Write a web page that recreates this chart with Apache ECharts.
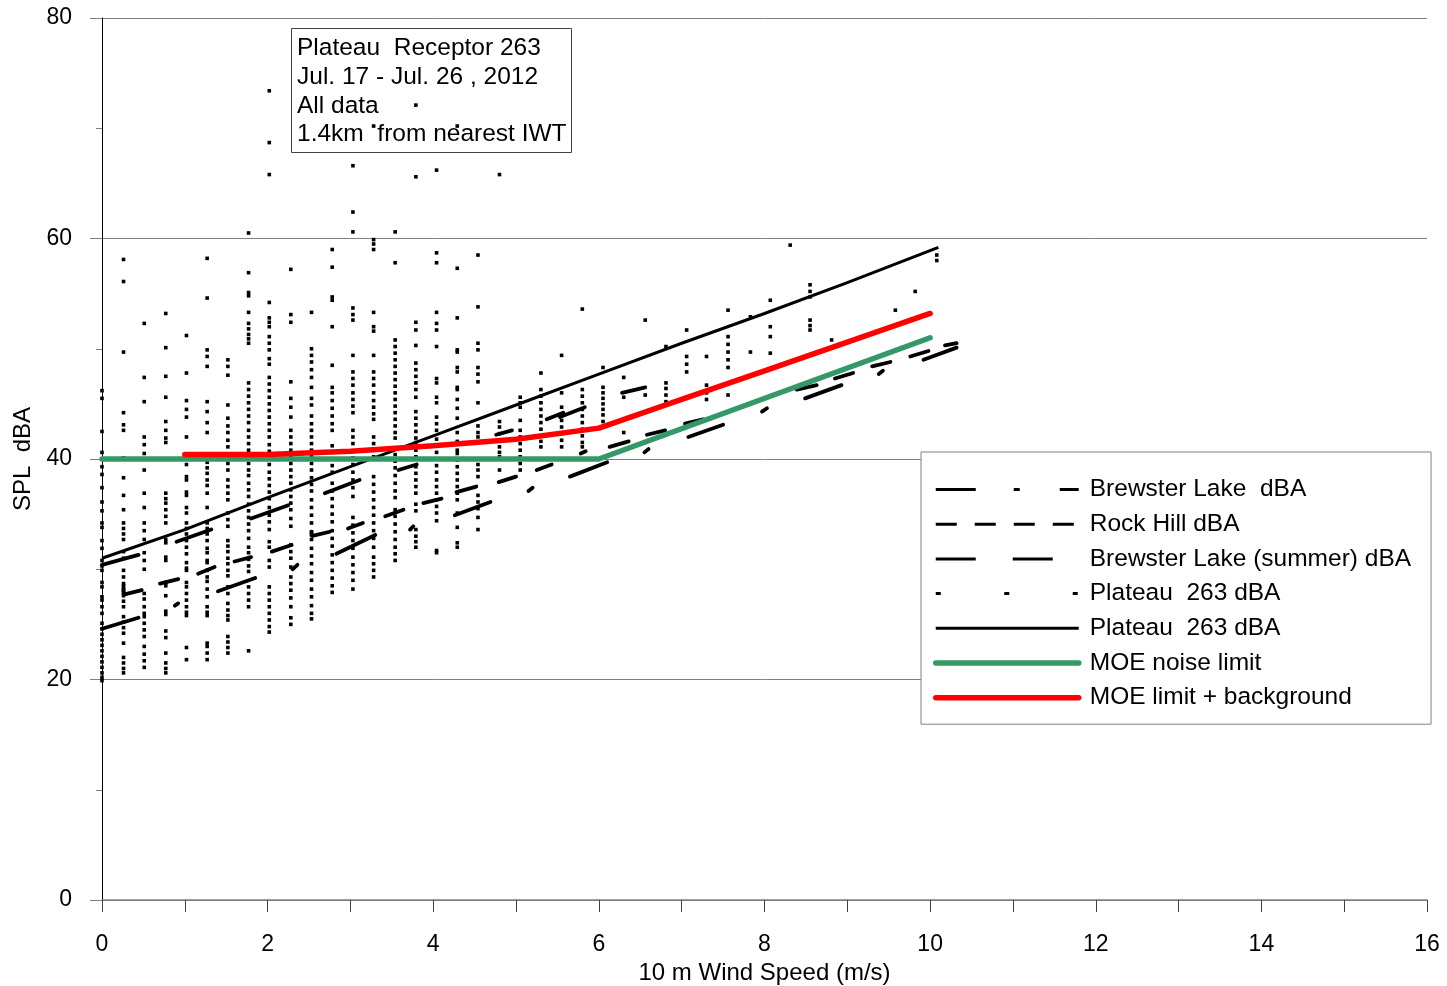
<!DOCTYPE html>
<html><head><meta charset="utf-8">
<script src="https://cdn.jsdelivr.net/npm/echarts@6/dist/echarts.min.js"></script>
<style>html,body{margin:0;padding:0;background:#fff}#chart{width:1447px;height:986px}</style>
</head><body><div id="chart"></div>
<script>
// ---------------- DATA ----------------
const noteLines = ['Plateau  Receptor 263', 'Jul. 17 - Jul. 26 , 2012', 'All data', '1.4km  from nearest IWT'];

const legendNames = ['Brewster Lake  dBA', 'Rock Hill dBA', 'Brewster Lake (summer) dBA',
  'Plateau  263 dBA', 'Plateau  263 dBA ', 'MOE noise limit', 'MOE limit + background'];

// Plateau 263 measured points: one column of SPL values per wind-speed bin
const scatterX = [0, 0.26, 0.51, 0.77, 1.02, 1.27, 1.52, 1.77, 2.02, 2.28, 2.53, 2.78, 3.03, 3.28, 3.54, 3.79,
  4.04, 4.29, 4.54, 4.80, 5.05, 5.30, 5.55, 5.80, 6.05, 6.30, 6.56, 6.81, 7.06, 7.30, 7.56, 7.83, 8.07, 8.31, 8.55, 8.81, 9.58, 9.82, 10.08];
const scatterY = [
  [46.2,45.5,42.5,40.6,39.3,38.6,37.4,36.1,35.3,34.2,33.8,32.6,31.9,30.8,30.3,29.9,28.8,28.4,27.5,27.2,26.6,26.0,25.1,24.6,24.1,23.6,23.1,22.6,22.1,21.6,21.1,20.6,20.2,19.9],
  [58.1,56.1,49.7,44.2,43.1,42.6,40.1,38.3,36.7,35.4,34.2,33.7,33.2,32.7,31.6,31.0,29.9,29.3,28.7,28.1,27.6,27.1,26.6,25.7,25.2,24.7,24.2,23.3,22.0,21.5,21.0,20.6],
  [52.3,47.4,45.2,42.0,41.3,40.5,39.0,36.9,35.6,34.2,33.5,32.7,31.5,30.8,30.0,27.8,27.3,26.6,26.0,25.7,25.1,24.5,23.9,23.0,22.3,21.7,21.1],
  [53.2,50.1,47.5,45.6,43.4,42.6,41.9,41.5,36.9,36.4,36.0,35.4,34.8,34.2,32.7,32.4,31.1,30.8,28.8,28.5,27.6,26.2,25.9,24.4,23.8,22.4,21.5,21.0,20.6],
  [51.2,47.8,45.3,44.5,43.8,42.0,39.5,38.4,38.1,37.0,36.7,35.6,35.1,34.2,33.7,33.2,32.6,32.0,31.4,30.6,30.1,29.9,28.8,28.4,27.8,27.2,26.6,26.1,25.8,22.9,21.8],
  [58.2,54.6,49.9,49.3,48.4,45.2,44.3,43.3,42.4,39.7,39.2,38.7,38.1,37.6,36.9,35.6,34.2,33.7,33.2,32.6,31.9,31.5,30.8,30.6,29.9,29.3,28.9,28.2,27.5,26.6,26.1,25.8,23.3,23.0,22.4,21.8],
  [49.0,48.4,47.6,44.9,43.7,43.0,42.4,41.7,41.1,39.6,39.0,38.1,37.5,36.9,36.3,35.1,34.5,33.9,32.6,32.1,31.6,31.0,30.5,29.9,29.4,28.4,27.8,26.9,26.3,25.8,25.4,23.9,23.4,22.9,22.4],
  [60.5,56.9,55.1,54.8,53.3,52.3,51.8,51.3,50.9,50.5,46.9,46.3,45.7,45.1,44.5,43.9,43.3,42.6,42.0,41.4,40.8,39.6,39.0,38.5,37.8,37.2,36.6,35.9,35.3,34.7,34.1,33.5,32.8,32.0,31.5,30.9,30.3,29.8,28.4,27.8,27.2,26.6,22.6],
  [73.4,68.7,65.8,54.2,52.8,52.4,52.0,51.1,50.5,49.9,49.1,48.6,47.4,46.8,46.2,45.6,45.0,44.4,43.8,43.2,42.6,42.0,41.3,40.7,40.1,39.5,38.8,38.2,37.6,37.0,36.4,35.6,34.9,34.3,33.6,32.5,32.0,30.8,30.2,28.4,27.8,27.2,26.6,26.0,25.4,24.8,24.3],
  [57.2,53.1,52.4,47.0,45.5,44.7,43.8,42.6,42.0,41.4,40.8,40.2,39.6,39.0,38.4,37.8,37.2,36.6,36.0,35.4,34.6,33.9,32.2,31.6,31.0,30.2,29.3,28.7,28.1,27.4,26.6,25.6,25.0],
  [53.3,50.0,49.4,48.8,48.1,47.4,46.5,45.5,44.9,43.9,43.2,42.6,42.0,41.4,40.8,40.2,39.6,39.0,38.3,37.7,37.1,36.3,35.6,34.9,34.2,33.4,32.7,31.9,31.2,30.5,29.7,29.0,28.2,27.5,26.7,26.0,25.5],
  [59.0,57.4,54.7,54.4,52.0,48.5,46.5,46.0,45.3,44.6,43.9,43.2,42.6,41.2,40.6,40.0,39.4,38.8,37.8,37.1,36.4,35.7,35.0,34.3,33.5,32.8,32.1,31.3,30.6,29.9,29.2,28.5,27.9],
  [66.6,62.4,60.6,53.7,53.1,52.6,49.4,47.9,47.3,46.7,46.0,45.4,44.8,44.2,42.6,42.0,41.4,40.7,40.1,39.5,38.8,38.1,37.4,36.6,34.7,34.0,33.3,32.6,31.9,31.1,30.4,29.7,29.0,28.2],
  [70.2,59.9,59.5,59.0,53.3,52.0,51.6,49.4,47.9,47.3,46.7,46.0,45.3,44.7,44.1,43.6,42.0,41.4,40.8,40.2,38.4,37.7,37.0,36.3,35.6,34.9,34.2,33.5,32.8,32.0,31.1,30.5,29.9,29.3],
  [60.6,57.8,50.8,50.2,49.6,49.0,48.4,47.8,47.2,46.6,46.0,45.4,44.8,44.2,43.6,43.0,42.4,41.9,40.4,39.8,39.2,38.5,37.8,37.1,36.5,35.4,34.8,34.1,33.4,32.7,32.0,31.4,30.8],
  [72.1,65.6,52.4,51.7,50.3,48.7,48.1,47.5,46.9,46.3,45.6,44.3,43.7,43.1,42.5,41.9,41.5,40.8,40.2,39.3,38.7,38.1,37.5,36.9,35.9,35.3,33.6,33.0,32.5,32.0],
  [66.2,58.7,57.8,53.3,52.3,51.7,50.2,47.3,46.9,45.6,45.1,43.8,43.2,42.6,41.8,41.2,40.6,40.0,39.4,38.8,38.1,37.5,36.9,36.3,35.7,35.1,34.4,31.7,31.5],
  [70.2,57.3,52.8,49.9,49.7,48.3,47.9,46.5,46.3,45.4,44.6,43.7,42.4,41.6,40.8,40.5,39.9,39.3,38.7,38.1,37.5,36.9,36.3,35.1,33.8,32.4,32.0],
  [58.5,53.8,50.5,49.9,48.3,47.7,47.0,45.1,43.0,42.4,42.0,39.5,39.0,38.4,36.7,36.1,35.5,34.7,33.6],
  [65.8,43.4,42.9,42.3,41.7,41.1,40.6,40.2,39.0],
  [45.6,45.1,44.7,43.5,42.6,42.0,41.4,40.8,40.2,39.6,39.0],
  [47.8,46.3,45.7,45.1,44.5,43.9,43.3,42.7,42.1,41.6,41.1],
  [49.4,46.0,44.7,44.1,43.5,42.9,42.3,41.7,41.1],
  [53.6,46.3,45.7,45.1,44.5,43.9,43.3,42.7,42.1,41.5,41.1],
  [48.3,46.5,46.0,45.5,45.0,44.5,44.0,43.4],
  [47.4,45.6,42.4],
  [52.6,45.8],
  [50.2,46.9,46.4,45.8,45.2],
  [51.7,49.3,48.6,47.9],
  [49.3,46.7,46.0,45.4],
  [53.5,51.1,50.4,49.7,49.0,48.3,45.8],
  [52.9,49.7],
  [54.4,52.0,51.1,49.6],
  [59.4],
  [55.8,55.2,54.7,52.6,52.1,51.7],
  [50.8],
  [53.5],
  [55.2],
  [58.5,58.0]
];

// Plateau 263 trend (solid)
const fitX = [0, 1, 2, 3, 4, 5, 6, 7, 8, 9, 10.1];
const fitY = [31.0, 33.6, 36.5, 39.3, 42.1, 44.9, 47.7, 50.5, 53.2, 56.0, 59.2];

// MOE noise limit
const moeX = [0, 6, 10];
const moeY = [40, 40, 51];

// MOE limit + background
const bgX = [1, 2, 3, 4, 5, 6, 7, 8, 9, 10];
const bgY = [40.4, 40.4, 40.7, 41.2, 41.8, 42.8, 45.4, 48.0, 50.6, 53.2];

// dashed-series fragments: each fragment is a list of [x, y]
const brewsterSegs = [
  [[0,30.4],[0.44,31.3]], [[0.9,32.5],[1.32,33.6]], [[1.8,34.6],[2.25,35.8]], [[2.69,36.9],[3.11,38.1]],
  [[3.58,39.0],[3.8,39.5]], [[4.76,42.2],[4.95,42.6]], [[5.37,43.6],[5.57,44.2]], [[5.53,43.8],[5.83,44.7]],
  [[6.28,46.0],[6.56,46.5]]
];
const rockSegs = [
  [[0.26,28.6],[0.26,27.7],[0.48,28.1]], [[1.16,29.6],[1.36,30.2]], [[1.6,30.7],[1.8,31.1]], [[2.05,31.6],[2.29,32.2]],
  [[2.97,33.7],[3.15,34.2]], [[3.42,34.8],[3.64,35.4]], [[3.88,36.0],[4.1,36.4]], [[4.28,37.0],[4.52,37.5]],
  [[4.79,37.9],[5.0,38.4]], [[5.25,39.0],[5.43,39.5]], [[5.78,40.5],[5.84,40.7]], [[6.13,41.1],[6.36,41.6]],
  [[6.58,42.2],[6.8,42.6]], [[7.04,43.2],[7.26,43.6]], [[7.97,44.3],[8.03,44.6]], [[8.39,46.3],[8.63,46.7]],
  [[8.85,47.3],[9.07,47.8]], [[9.3,48.4],[9.52,48.8]], [[9.76,49.3],[9.98,49.8]], [[10.18,50.3],[10.32,50.5]]
];
const summerSegs = [
  [[0,24.6],[0.44,25.6]], [[0.7,28.7],[0.92,29.1]], [[0.88,26.7],[0.92,26.9]], [[1.4,28.0],[1.85,29.2]],
  [[2.53,33.4],[2.53,33.0],[2.75,33.4]], [[2.83,31.4],[3.3,33.1]], [[2.3,30.0],[2.36,30.4]], [[3.72,33.6],[3.76,33.9]],
  [[4.26,34.9],[4.69,36.1]], [[5.15,37.1],[5.2,37.4]], [[5.65,38.4],[6.1,39.7]], [[6.55,40.6],[6.6,40.9]],
  [[7.08,42.0],[7.5,43.1]], [[8.49,45.5],[8.93,46.7]], [[9.38,47.7],[9.43,48.0]], [[9.92,49.0],[10.32,50.1]]
];

// ---------------- BUILD ----------------
const FONT = '"Liberation Sans", Arial, sans-serif';
const scatterData = [];
scatterX.forEach((x, i) => scatterY[i].forEach(y => scatterData.push([x, y])));
const zip = (xs, ys) => xs.map((x, i) => [x, ys[i]]);
const segLine = { color: '#000', width: 3.8, cap: 'round' };
const segSeries = (segs, name) => segs.map(s => ({
  name, type: 'line', data: s, symbol: 'none', lineStyle: segLine, z: 3, silent: true
}));

const chart = echarts.init(document.getElementById('chart'), null, { renderer: 'canvas' });
chart.setOption({
  animation: false,
  backgroundColor: '#fff',
  textStyle: { fontFamily: FONT },
  grid: { left: 102, right: 20, top: 18, bottom: 86, containLabel: false, outerBoundsMode: 'none' },
  xAxis: {
    type: 'value', min: 0, max: 16, interval: 2,
    name: '10 m Wind Speed (m/s)', nameLocation: 'middle', nameGap: 59,
    nameTextStyle: { fontSize: 24, color: '#000', fontFamily: FONT },
    axisLine: { show: true, onZero: false, lineStyle: { color: '#808080', width: 1.5 } },
    axisTick: { show: true, length: 12, lineStyle: { color: '#404040' } },
    minorTick: { show: true, splitNumber: 2, length: 12, lineStyle: { color: '#404040' } },
    splitLine: { show: false },
    axisLabel: { fontSize: 23, color: '#000', margin: 33, fontFamily: FONT }
  },
  yAxis: {
    type: 'value', min: 0, max: 80, interval: 20,
    name: 'SPL  dBA', nameLocation: 'middle', nameGap: 66,
    nameTextStyle: { fontSize: 24, color: '#000', fontFamily: FONT },
    axisLine: { show: true, lineStyle: { color: '#000', width: 1 } },
    axisTick: { show: true, length: 12, lineStyle: { color: '#808080' } },
    minorTick: { show: true, splitNumber: 2, length: 6, lineStyle: { color: '#808080' } },
    splitLine: { show: true, lineStyle: { color: '#808080', width: 1 } },
    axisLabel: { fontSize: 23, color: '#000', margin: 30, fontFamily: FONT }
  },
  legend: {
    orient: 'vertical', left: 921, top: 452,
    padding: [25, 20, 14, 12], itemGap: 9.7, itemWidth: 143, itemHeight: 10,
    backgroundColor: '#fff', borderColor: '#808080', borderWidth: 1, borderRadius: 0,
    selectedMode: false,
    itemStyle: { opacity: 0 },
    lineStyle: { width: 'inherit' },
    textStyle: { fontSize: 24.5, color: '#000', fontFamily: FONT, padding: [0, 0, 0, 6] },
    data: legendNames
  },
  graphic: [
    { type: 'rect', shape: { x: 291.5, y: 28.5, width: 280, height: 124 }, style: { fill: null, stroke: '#404040', lineWidth: 1 }, z: 100 },
    { type: 'text', x: 297, y: 34, style: { text: noteLines.join('\n'), font: '24.5px ' + FONT, lineHeight: 28.7, fill: '#000' }, z: 100 }
  ],
  series: [
    // legend-style carriers (empty)
    { name: legendNames[0], type: 'line', data: [], symbol: 'none', lineStyle: { color: '#000', width: 3, type: [40, 38, 6, 40] } },
    { name: legendNames[1], type: 'line', data: [], symbol: 'none', lineStyle: { color: '#000', width: 3, type: [21, 18] } },
    { name: legendNames[2], type: 'line', data: [], symbol: 'none', lineStyle: { color: '#000', width: 3, type: [40, 37] } },
    { name: legendNames[3], type: 'line', data: [], symbol: 'none', lineStyle: { color: '#000', width: 3, type: [5, 63.5] } },
    // data
    { name: legendNames[3], type: 'scatter', data: scatterData, symbol: 'rect', symbolSize: 3.6, itemStyle: { color: '#000', opacity: 1 }, z: 2, silent: true },
    ...segSeries(brewsterSegs, legendNames[0]),
    ...segSeries(rockSegs, legendNames[1]),
    ...segSeries(summerSegs, legendNames[2]),
    { name: legendNames[4], type: 'line', data: zip(fitX, fitY), symbol: 'none', lineStyle: { color: '#000', width: 3 }, z: 4 },
    { name: legendNames[5], type: 'line', data: zip(moeX, moeY), symbol: 'none', lineStyle: { color: '#339966', width: 5.5, cap: 'round' }, z: 5 },
    { name: legendNames[6], type: 'line', data: zip(bgX, bgY), symbol: 'none', lineStyle: { color: '#ff0000', width: 5.5, cap: 'round' }, z: 6 }
  ]
});
</script>
</body></html>
